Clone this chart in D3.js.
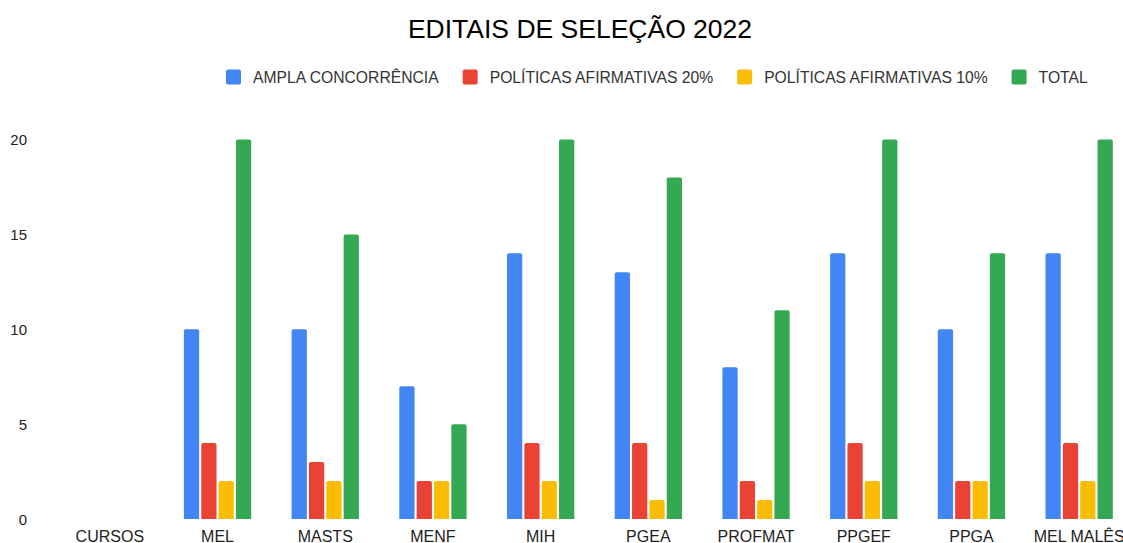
<!DOCTYPE html>
<html>
<head>
<meta charset="utf-8">
<script src="https://cdn.jsdelivr.net/npm/d3@7"></script>
<style>
	body { margin: 0; background: #fff; }
	text { font-family: "Liberation Sans", Arial, sans-serif; fill: #222; }
</style>
</head>
<body>
<svg id="chart" width="1123" height="543"></svg>
<script>
var categories = ["CURSOS", "MEL", "MASTS", "MENF", "MIH", "PGEA", "PROFMAT", "PPGEF", "PPGA", "MEL MALÊS"];
var seriesNames = ["AMPLA CONCORRÊNCIA", "POLÍTICAS AFIRMATIVAS 20%", "POLÍTICAS AFIRMATIVAS 10%", "TOTAL"];
var seriesColors = ["#4285F4", "#EA4335", "#FBBC04", "#34A853"];
// CURSOS is a header row with no values
var ampla      = [null, 10, 10, 7, 14, 13, 8, 14, 10, 14];
var afirm20    = [null, 4, 3, 2, 4, 4, 2, 4, 2, 4];
var afirm10    = [null, 2, 2, 2, 2, 1, 1, 2, 2, 2];
var total      = [null, 20, 15, 5, 20, 18, 11, 20, 14, 20];
var yTicks = [0, 5, 10, 15, 20];

var series = [ampla, afirm20, afirm10, total];

var svg = d3.select("#chart");

var x = d3.scaleBand()
	.domain(categories)
	.range([56, 1133])
	.paddingInner(0.375)
	.paddingOuter(0.1875);

var xInner = d3.scaleBand()
	.domain(d3.range(series.length))
	.range([0, x.bandwidth()])
	.paddingInner(0.12);

var y = d3.scaleLinear()
	.domain([0, 20])
	.range([519, 139.5]);

/* ------- TITLE -------*/
svg.append("text")
	.attr("x", 580)
	.attr("y", 37.5)
	.attr("text-anchor", "middle")
	.attr("font-size", "26.5px")
	.style("fill", "#000")
	.text("EDITAIS DE SELEÇÃO 2022");

/* ------- LEGEND -------*/
var legend = svg.append("g").attr("class", "legend");
var lx = 226;
seriesNames.forEach(function(name, i) {
	var g = legend.append("g").attr("transform", "translate(" + lx + ",0)");
	g.append("rect")
		.attr("x", 0)
		.attr("y", 69.5)
		.attr("width", 15)
		.attr("height", 15)
		.attr("rx", 2)
		.style("fill", seriesColors[i]);
	var t = g.append("text")
		.attr("x", 27)
		.attr("y", 82.5)
		.attr("font-size", "15.7px")
		.style("fill", "#333")
		.text(name);
	lx += 27 + t.node().getComputedTextLength() + 24;
});

/* ------- Y AXIS LABELS -------*/
svg.append("g").selectAll("text")
	.data(yTicks)
	.enter().append("text")
	.attr("x", 27)
	.attr("y", function(d) { return y(d) + 5.5; })
	.attr("text-anchor", "end")
	.attr("font-size", "15px")
	.text(function(d) { return d; });

/* ------- X AXIS LABELS -------*/
svg.append("g").selectAll("text")
	.data(categories)
	.enter().append("text")
	.attr("x", function(d) { return x(d) + x.bandwidth() / 2; })
	.attr("y", 541.5)
	.attr("text-anchor", "middle")
	.attr("font-size", "16px")
	.text(function(d) { return d; });

/* ------- BARS -------*/
function barPath(x0, w, y0, y1) {
	var r = Math.min(2, (y0 - y1) / 2);
	return "M" + x0 + "," + y0 +
		"V" + (y1 + r) +
		"Q" + x0 + "," + y1 + " " + (x0 + r) + "," + y1 +
		"H" + (x0 + w - r) +
		"Q" + (x0 + w) + "," + y1 + " " + (x0 + w) + "," + (y1 + r) +
		"V" + y0 + "Z";
}

var groups = svg.append("g").selectAll("g.group")
	.data(categories)
	.enter().append("g")
	.attr("class", "group")
	.attr("transform", function(d) { return "translate(" + x(d) + ",0)"; });

groups.selectAll("path.bar")
	.data(function(d, i) {
		return series.map(function(s, k) { return {k: k, value: s[i]}; })
			.filter(function(e) { return e.value != null; });
	})
	.enter().append("path")
	.attr("class", "bar")
	.attr("d", function(d) {
		return barPath(xInner(d.k), xInner.bandwidth(), y(0), y(d.value));
	})
	.style("fill", function(d) { return seriesColors[d.k]; });
</script>
</body>
</html>
